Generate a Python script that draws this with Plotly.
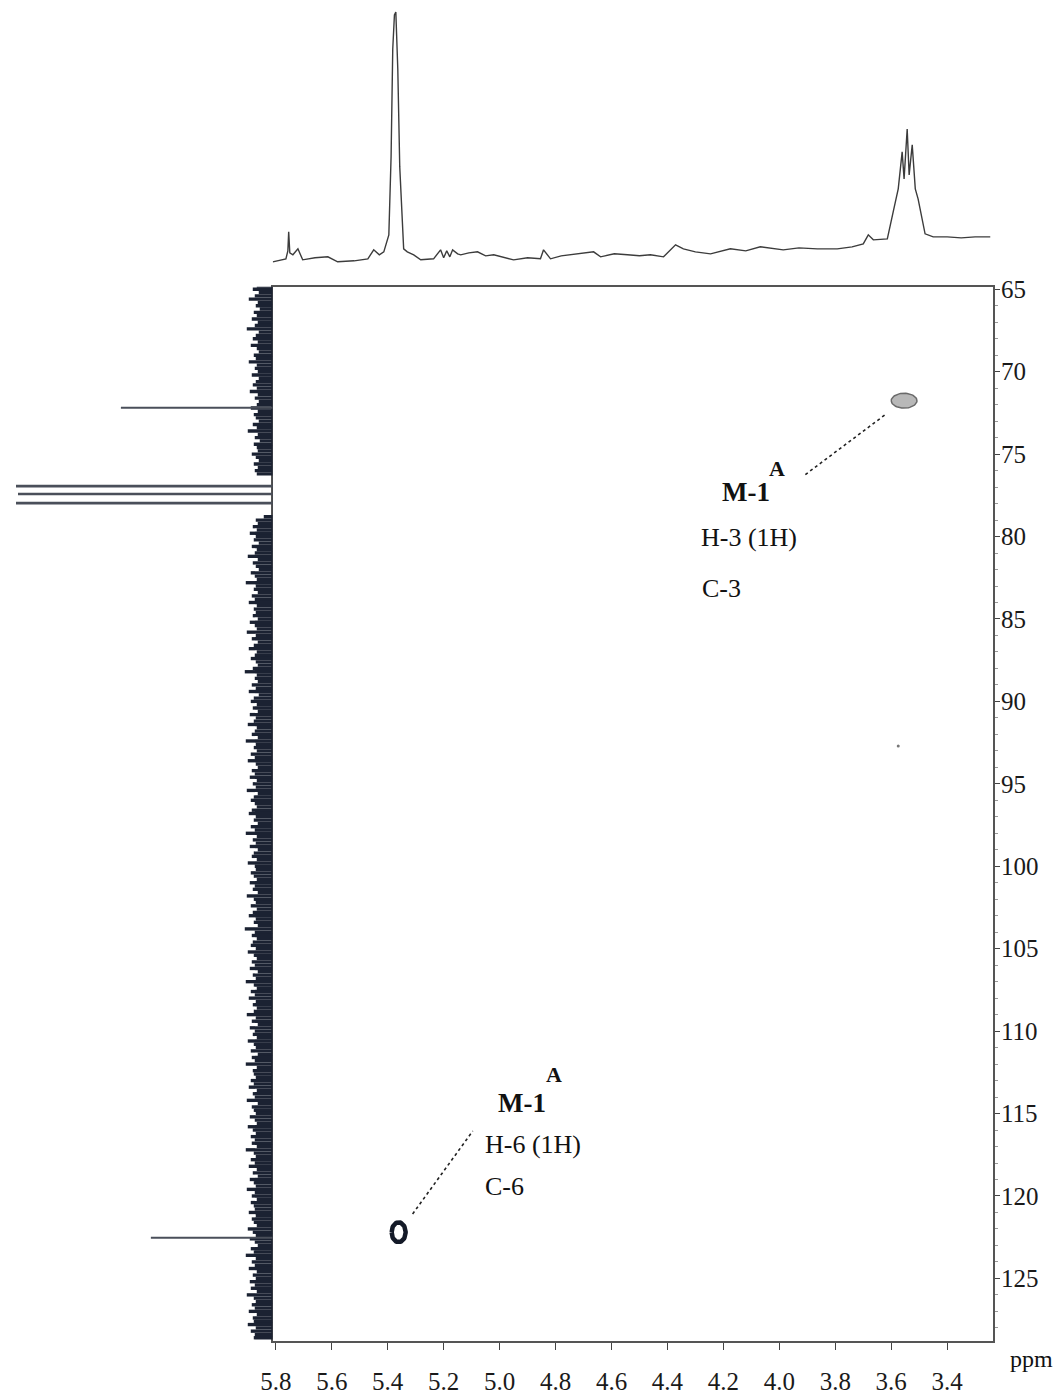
import numpy as np
import plotly.graph_objects as go

# ---------------- data ----------------
# 1H projection (top): chemical shift (ppm) and intensity (arb.)
h_ppm = [5.811, 5.790, 5.764, 5.757, 5.754, 5.750, 5.739, 5.721, 5.704, 5.660, 5.614, 5.579, 5.520,
         5.471, 5.450, 5.430, 5.414, 5.396, 5.388, 5.382, 5.376, 5.371, 5.367, 5.364, 5.357, 5.343,
         5.330, 5.307, 5.282, 5.236, 5.211, 5.200, 5.189, 5.178, 5.168, 5.150, 5.139, 5.110, 5.079,
         5.050, 5.021, 4.950, 4.900, 4.854, 4.843, 4.818, 4.780, 4.746, 4.700, 4.664, 4.639, 4.590,
         4.543, 4.500, 4.461, 4.414, 4.371, 4.343, 4.300, 4.246, 4.175, 4.120, 4.068, 3.986, 3.930,
         3.864, 3.793, 3.740, 3.700, 3.682, 3.664, 3.614, 3.593, 3.575, 3.561, 3.554, 3.543, 3.536,
         3.525, 3.514, 3.504, 3.493, 3.479, 3.450, 3.400, 3.350, 3.300, 3.246]
h_int = [15, 16, 18, 26, 45, 24, 22, 28, 17, 19, 20, 15, 16,
         18, 27, 22, 25, 42, 120, 228, 262, 265, 240, 208, 110, 28,
         25, 22, 17, 18, 27, 19, 26, 20, 27, 23, 22, 24, 25,
         21, 22, 17, 19, 18, 27, 18, 21, 22, 24, 25, 20, 23,
         22, 21, 22, 20, 32, 28, 25, 23, 28, 26, 30, 27, 29,
         28, 28, 30, 33, 42, 37, 38, 65, 88, 125, 98, 148, 102,
         132, 88, 78, 62, 43, 40, 40, 39, 40, 40]

# 13C projection (left): baseline noise sampled every 0.2 ppm from 64.8 ppm
c_start, c_step = 64.8, 0.2
c_noise = [16, 20, 14, 18, 24, 15, 17, 13, 19, 16, 21, 15, 18, 26, 14, 17, 20, 15, 22, 16,
           14, 19, 17, 24, 16, 18, 15, 21, 14, 17, 20, 16, 23, 15, 18, 14, 16, 22, 15, 19,
           17, 14, 20, 16, 25, 15, 18, 13, 19, 16, 15, 21, 17, 14, 19, 15, 18, 16, -3, -5,
           -6, -5, -6, -7, -6, -5, -6, -5, -4, -3, 9, 17, 15, 20, 16, 23, 17, 19, 14, 21,
           16, 18, 25, 15, 20, 17, 14, 22, 18, 16, 27, 17, 19, 15, 21, 18, 24, 16, 19, 17,
           20, 15, 23, 18, 16, 26, 17, 21, 15, 19, 24, 16, 18, 22, 17, 15, 20, 28, 16, 18,
           15, 21, 17, 24, 14, 19, 22, 16, 20, 15, 23, 17, 19, 25, 16, 18, 21, 15, 27, 17,
           19, 16, 22, 18, 25, 17, 15, 21, 18, 23, 16, 20, 17, 26, 15, 19, 22, 18, 16, 21,
           24, 17, 19, 15, 22, 18, 27, 16, 20, 17, 23, 15, 19, 21, 16, 25, 18, 17, 22, 19,
           16, 23, 18, 20, 15, 26, 19, 17, 22, 16, 20, 24, 17, 19, 15, 28, 18, 21, 16, 20,
           22, 17, 25, 19, 16, 21, 18, 23, 15, 20, 17, 27, 19, 16, 22, 18, 24, 17, 20, 16,
           19, 26, 17, 21, 15, 23, 18, 20, 16, 25, 19, 17, 22, 15, 21, 18, 27, 16, 20, 19,
           17, 22, 19, 24, 16, 20, 18, 26, 15, 21, 19, 17, 23, 18, 16, 25, 20, 17, 22, 18,
           21, 16, 27, 19, 17, 22, 18, 24, 16, 20, 15, 23, 19, 17, 26, 18, 21, 16, 22, 19,
           18, 24, 17, 21, 19, 16, 25, 20, 17, 23, 18, 15, 22, 19, 27, 17, 21, 18, 24, 16,
           20, 17, 23, 18, 22, 16, 26, 19, 17, 21, 18, 24, 16, 20, 19, 25, 17, 22, 18, 19]
# sharp 13C lines (ppm, intensity)
c_line_ppm = [72.2, 76.97, 77.45, 78.0, 122.55]
c_line_int = [152, 257, 255, 257, 122]

# HSQC cross peaks (1H ppm, 13C ppm)
xp_h = [3.554, 5.361]
xp_c = [71.76, 122.2]
weak_h = [3.575]
weak_c = [92.7]

# axis ticks
x_ticks = [5.8, 5.6, 5.4, 5.2, 5.0, 4.8, 4.6, 4.4, 4.2, 4.0, 3.8, 3.6, 3.4]
y_ticks = [65, 70, 75, 80, 85, 90, 95, 100, 105, 110, 115, 120, 125]

# labels placed in (1H ppm, 13C ppm)
lbl_main = ["M-1", "M-1"]
lbl_main_h = [4.211, 5.014]
lbl_main_c = [77.27, 114.36]
lbl_sup_h = [4.007, 4.807]
lbl_sup_c = [75.88, 112.61]
lbl_sub1 = ["H-3 (1H)", "H-6 (1H)"]
lbl_sub1_h = [4.289, 5.061]
lbl_sub1_c = [80.06, 116.85]
lbl_sub2 = ["C-3", "C-6"]
lbl_sub2_h = [4.282, 5.061]
lbl_sub2_c = [83.15, 119.45]
leader_h0 = [3.907, 5.311]
leader_c0 = [76.24, 121.09]
leader_h1 = [3.621, 5.096]
leader_c1 = [72.6, 116.06]

# ---------------- figure ----------------
W, H = 1054, 1399


def fx(px):
    return (px - 12) / 1042


def fy(py):
    return 1 - (py - 9) / 1389


X0, X1 = fx(272), fx(993)
Y0, Y1 = fy(1340), fy(285)
FONT = "Liberation Serif"

fig = go.Figure()

# top 1H projection
fig.add_trace(go.Scatter(x=h_ppm, y=h_int, mode="lines", xaxis="x2", yaxis="y2",
                         line=dict(color="#3c3c3c", width=1.4), hoverinfo="skip"))

# left 13C projection: noise drawn as dense horizontal bars, lines as thin bars
c_grid = [c_start + c_step * i for i in range(len(c_noise))]
fig.add_trace(go.Bar(x=c_noise, y=c_grid, orientation="h", width=c_step * 1.02,
                     xaxis="x3", yaxis="y3", marker=dict(color="#1b2232", line=dict(width=0)),
                     hoverinfo="skip"))
fig.add_trace(go.Bar(x=c_line_int, y=c_line_ppm, orientation="h", width=0.1,
                     xaxis="x3", yaxis="y3", marker=dict(color="#4a4f5a", line=dict(width=0)),
                     hoverinfo="skip"))

# cross peaks drawn as small ellipses around their centres
t = np.linspace(0, 2 * np.pi, 60)
sizes = [(0.046, 0.45), (0.025, 0.60)]
styles = [dict(fill="#b8b8b8", line="#6a6a6a", w=1.5), dict(fill="white", line="#141a28", w=4.5)]
for h, c, (rh, rc), s in zip(xp_h, xp_c, sizes, styles):
    fig.add_trace(go.Scatter(x=h + rh * np.cos(t), y=c + rc * np.sin(t), mode="lines",
                             fill="toself", fillcolor=s["fill"],
                             line=dict(color=s["line"], width=s["w"]), hoverinfo="skip"))
fig.add_trace(go.Scatter(x=weak_h, y=weak_c, mode="markers",
                         marker=dict(size=3, color="#777"), hoverinfo="skip"))

# leader lines
for a, b, c, d in zip(leader_h0, leader_c0, leader_h1, leader_c1):
    fig.add_shape(type="line", x0=a, y0=b, x1=c, y1=d, xref="x", yref="y",
                  line=dict(color="#222", width=1.6, dash="dot"))

ann = []
for i in range(2):
    ann.append(dict(text="<b>%s</b>" % lbl_main[i], x=lbl_main_h[i], y=lbl_main_c[i],
                    xref="x", yref="y", xanchor="left", yanchor="middle", showarrow=False,
                    font=dict(family=FONT, size=27, color="#111")))
    ann.append(dict(text="<b>A</b>", x=lbl_sup_h[i], y=lbl_sup_c[i], xref="x", yref="y",
                    xanchor="center", yanchor="middle", showarrow=False,
                    font=dict(family=FONT, size=22, color="#111")))
    ann.append(dict(text=lbl_sub1[i], x=lbl_sub1_h[i], y=lbl_sub1_c[i], xref="x", yref="y",
                    xanchor="left", yanchor="middle", showarrow=False,
                    font=dict(family=FONT, size=26, color="#111")))
    ann.append(dict(text=lbl_sub2[i], x=lbl_sub2_h[i], y=lbl_sub2_c[i], xref="x", yref="y",
                    xanchor="left", yanchor="middle", showarrow=False,
                    font=dict(family=FONT, size=26, color="#111")))
ann.append(dict(text="ppm", x=fx(1031), y=fy(1358), xref="paper", yref="paper",
                xanchor="center", yanchor="middle", showarrow=False,
                font=dict(family=FONT, size=24, color="#111")))

axis_font = dict(family=FONT, size=25, color="#1a1a1a")
fig.update_layout(
    width=W, height=H, margin=dict(l=0, r=0, t=0, b=0),
    paper_bgcolor="white", plot_bgcolor="white", showlegend=False, barmode="overlay",
    annotations=ann,
    xaxis=dict(domain=[X0, X1], range=[5.811, 3.236], tickmode="array", tickvals=x_ticks,
               ticktext=["%.1f" % v for v in x_ticks], ticks="outside", ticklen=7,
               tickcolor="#444", tickwidth=1.2, showline=True, linecolor="#555", linewidth=2,
               mirror=True, showgrid=False, zeroline=False, tickfont=axis_font,
               ticklabelstandoff=10, anchor="y"),
    yaxis=dict(domain=[Y0, Y1], range=[128.8, 64.85], side="right", tickmode="array",
               tickvals=y_ticks, ticktext=[str(v) for v in y_ticks], ticks="outside",
               ticklen=5, tickcolor="#444", tickwidth=1.2, showline=True, linecolor="#555",
               linewidth=2, mirror=True, showgrid=False, zeroline=False, tickfont=axis_font,
               minor=dict(ticks="outside", ticklen=3, dtick=1, tickcolor="#999"),
               ticklabelstandoff=-4, anchor="x"),
    xaxis2=dict(domain=[X0, X1], matches="x", visible=False, anchor="y2"),
    yaxis2=dict(domain=[fy(275), 1.0], range=[0, 266], visible=False, anchor="x2"),
    xaxis3=dict(domain=[0, X0], range=[260, 0], visible=False, anchor="y3"),
    yaxis3=dict(domain=[Y0, Y1], matches="y", visible=False, anchor="x3"),
)

fig.write_html("out.html")
